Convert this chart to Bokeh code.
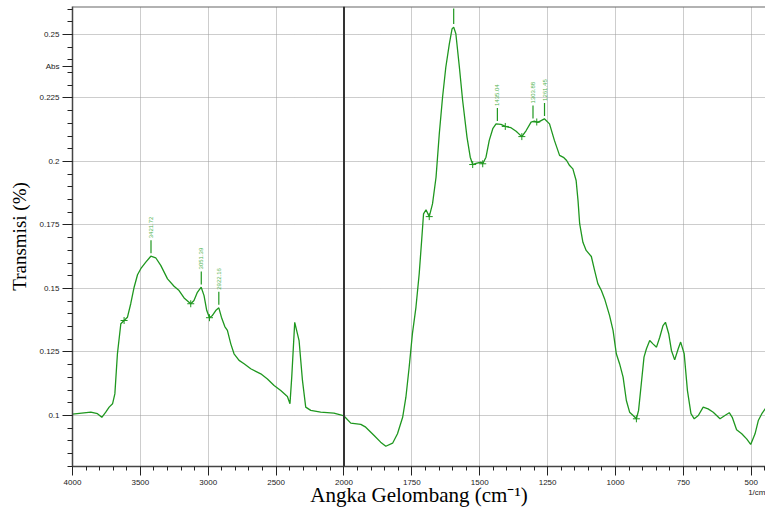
import numpy as np
from bokeh.plotting import figure
from bokeh.models import Range1d, FixedTicker, Span, ColumnDataSource
from bokeh.core.properties import value
from bokeh.embed import file_html
from bokeh.resources import INLINE

# ---------------- data ----------------
wavenumber = [
    4000, 3865, 3816, 3784, 3755, 3730, 3705, 3688, 3669, 3644, 3620, 3595, 3571, 3546,
    3521, 3497, 3460, 3423, 3387, 3350, 3300, 3252, 3215, 3178, 3129, 3105, 3080, 3052,
    3031, 3011, 2991, 2969, 2945, 2922, 2903, 2878, 2859, 2834, 2810, 2773, 2736, 2687,
    2613, 2564, 2515, 2466, 2417, 2398, 2385, 2363, 2331, 2306, 2282, 2245, 2172, 2074,
    2012, 2000, 1975, 1938, 1920, 1889, 1865, 1846, 1821, 1803, 1784, 1772, 1760, 1748,
    1735, 1723, 1714, 1707, 1698, 1686, 1674, 1661, 1649, 1637, 1625, 1612, 1602, 1596,
    1588, 1575, 1563, 1547, 1535, 1526, 1514, 1495, 1489, 1477, 1465, 1452, 1440, 1422,
    1406, 1385, 1366, 1345, 1329, 1311, 1299, 1286, 1274, 1262, 1243, 1225, 1206, 1190,
    1180, 1169, 1157, 1145, 1138, 1132, 1120, 1108, 1089, 1077, 1065, 1052, 1040, 1022,
    1009, 997, 985, 972, 960, 948, 935, 923, 915, 905, 895, 886, 874, 862, 849, 837, 825,
    816, 804, 794, 782, 769, 760, 747, 735, 722, 710, 695, 677, 659, 640, 615, 597, 581,
    570, 554, 535, 517, 502, 486, 474, 461, 446,
]
absorbance = [
    0.1005, 0.1013, 0.1007, 0.0993, 0.1013, 0.1033, 0.1046, 0.1085, 0.1243, 0.1361, 0.1374, 0.1387, 0.1440, 0.1505,
    0.1554, 0.1578, 0.1604, 0.1627, 0.1621, 0.1591, 0.1538, 0.1509, 0.1492, 0.1463, 0.1440, 0.1453, 0.1485, 0.1505,
    0.1472, 0.1413, 0.1385, 0.1394, 0.1413, 0.1424, 0.1387, 0.1350, 0.1335, 0.1282, 0.1243, 0.1217, 0.1204, 0.1184,
    0.1164, 0.1144, 0.1118, 0.1098, 0.1075, 0.1046, 0.1151, 0.1367, 0.1295, 0.1138, 0.1033, 0.1020, 0.1013, 0.1009,
    0.1000, 0.0998, 0.0970, 0.0965, 0.0954, 0.0921, 0.0895, 0.0879, 0.0891, 0.0928, 0.0993, 0.1072, 0.1190, 0.1322,
    0.1426, 0.1558, 0.1689, 0.1794, 0.1810, 0.1783, 0.1833, 0.1938, 0.2109, 0.2253, 0.2371, 0.2463, 0.2522, 0.2529,
    0.2503, 0.2371, 0.2240, 0.2096, 0.2017, 0.1988, 0.1993, 0.1997, 0.1991, 0.2017, 0.2083, 0.2129, 0.2148, 0.2146,
    0.2138, 0.2133, 0.2119, 0.2098, 0.2122, 0.2155, 0.2159, 0.2154, 0.2161, 0.2168, 0.2148, 0.2083, 0.2024, 0.2015,
    0.2004, 0.1984, 0.1971, 0.1925, 0.1846, 0.1755, 0.1682, 0.1650, 0.1626, 0.1571, 0.1519, 0.1492, 0.1459, 0.1394,
    0.1335, 0.1243, 0.1204, 0.1151, 0.1059, 0.1013, 0.1000, 0.0987, 0.1020, 0.1125, 0.1230, 0.1263, 0.1295, 0.1282,
    0.1269, 0.1308, 0.1354, 0.1367, 0.1322, 0.1256, 0.1219, 0.1263, 0.1289, 0.1243, 0.1098, 0.1007, 0.0987, 0.1000,
    0.1033, 0.1026, 0.1013, 0.0987, 0.1000, 0.1011, 0.0993, 0.0944, 0.0928, 0.0908, 0.0886, 0.0928, 0.0980, 0.1007,
    0.1030,
]

peak_wn = [3421.72, 3051.39, 2922.16, 1435.04, 1303.88, 1261.45]
peak_labels = ["3421.72", "3051.39", "2922.16", "1435.04", "1303.88", "1261.45"]
top_peak_wn = [1596.0]          # peak whose label is cut off above the plot
valley_wn = [3620, 3129, 2991, 1686, 1526, 1489, 1406, 1345, 1290, 923]

x_tick_values = [4000, 3500, 3000, 2500, 2000, 1750, 1500, 1250, 1000, 750, 500]
x_tick_labels = ["4000", "3500", "3000", "2500", "2000", "1750", "1500", "1250", "1000", "750", "500"]
y_tick_values = [0.1, 0.125, 0.15, 0.175, 0.2, 0.225, 0.25]
y_tick_labels = ["0.1", "0.125", "0.15", "0.175", "0.2", "0.225", "0.25"]
y_unit_label = "Abs"
x_unit_label = "1/cm"

# ---------------- axis break: below 2000 cm-1 the scale is stretched x2 ----------------
BREAK = 2000.0
STRETCH = 2.0


def to_axis(w):
    w = np.asarray(w, dtype=float)
    return np.where(w >= BREAK, w, BREAK - STRETCH * (BREAK - w))


wn = np.array(wavenumber, dtype=float)
ab = np.array(absorbance, dtype=float)
order = np.argsort(wn)


def ab_at(w):
    return np.interp(np.asarray(w, dtype=float), wn[order], ab[order])


GREEN = "#1f971f"
LIGHT_GREEN = "#4fb34f"

X_START, X_END = 4000, -1105
Y_START, Y_END = 0.07992, 0.26102

p = figure(width=765, height=512,
           x_range=Range1d(X_START, X_END), y_range=Range1d(Y_START, Y_END),
           output_backend="svg", toolbar_location=None,
           min_border_left=72, min_border_right=0, min_border_top=6, min_border_bottom=46)
p.background_fill_color = "white"
p.border_fill_color = "white"
p.outline_line_color = None

# ticks (unit labels sit in the tick-label columns, as in the instrument printout)
xt = [float(v) for v in to_axis(x_tick_values)]
x_unit_pos = X_END + 1.0
minor_x = np.concatenate([np.arange(4000, 2000, -100), to_axis(np.arange(2000, 440, -50))])
p.xaxis.ticker = FixedTicker(ticks=xt + [x_unit_pos], minor_ticks=list(minor_x))
x_over = {t: l for t, l in zip(xt, x_tick_labels)}
x_over[x_unit_pos] = "\n" + x_unit_label
p.xaxis.major_label_overrides = x_over

y_unit_pos = (y_tick_values[-1] + y_tick_values[-2]) / 2
p.yaxis.ticker = FixedTicker(ticks=y_tick_values + [y_unit_pos],
                             minor_ticks=list(np.round(np.arange(0.08, 0.2601, 0.005), 3)))
y_over = {t: l for t, l in zip(y_tick_values, y_tick_labels)}
y_over[y_unit_pos] = y_unit_label
p.yaxis.major_label_overrides = y_over

p.xgrid.ticker = FixedTicker(ticks=xt)
p.ygrid.ticker = FixedTicker(ticks=y_tick_values)

for ax in (p.xaxis[0], p.yaxis[0]):
    ax.axis_line_color = "#444444"
    ax.axis_line_width = 1.5
    ax.major_tick_line_color = "#222222"
    ax.minor_tick_line_color = "#222222"
    ax.major_tick_in = 0
    ax.minor_tick_in = 0
    ax.major_label_text_font = "Liberation Sans"
    ax.major_label_text_font_size = "8px"
    ax.major_label_text_color = "#222222"
    ax.axis_label_text_font = "Liberation Serif"
    ax.axis_label_text_font_style = "normal"
    ax.axis_label_text_color = "black"

p.yaxis.major_tick_out = 10
p.yaxis.minor_tick_out = 5
p.yaxis.major_label_standoff = 3
p.yaxis.axis_label = "Transmisi (%)"
p.yaxis.axis_label_text_font_size = "19px"
p.yaxis.axis_label_standoff = 6

p.xaxis.major_tick_out = 9
p.xaxis.minor_tick_out = 4
p.xaxis.major_label_standoff = 2
p.xaxis.axis_label = "Angka Gelombang (cm\u207b\u00b9)"
p.xaxis.axis_label_text_font_size = "21px"
p.xaxis.axis_label_standoff = -17

for g in (p.xgrid[0], p.ygrid[0]):
    g.grid_line_color = "#9a9a9a"
    g.grid_line_dash = "1 1"
    g.grid_line_width = 1

# top border and axis-break line
p.add_layout(Span(location=Y_END, dimension="width", line_color="#666666", line_width=2))
p.add_layout(Span(location=BREAK, dimension="height", line_color="#333333", line_width=2))

# spectrum
src = ColumnDataSource(dict(x=to_axis(wn), y=ab))
p.line("x", "y", source=src, line_color=GREEN, line_width=1.3)

# peak markers and labels
GAP = 0.0012
LEN = 0.0051
pv = ab_at(peak_wn)
pk = ColumnDataSource(dict(x=to_axis(peak_wn), y0=pv + GAP, y1=pv + GAP + LEN,
                           yt=pv + GAP + LEN + 0.0008, t=peak_labels))
p.segment(x0="x", y0="y0", x1="x", y1="y1", source=pk, line_color=GREEN, line_width=1.2)
p.text(x="x", y="yt", text="t", source=pk, angle=np.pi / 2, text_align="left",
       text_baseline="middle", text_font=value("Liberation Sans"), text_font_size="6px",
       text_color=LIGHT_GREEN)
tv = ab_at(top_peak_wn)
p.segment(x0=to_axis(top_peak_wn), y0=tv + GAP, x1=to_axis(top_peak_wn), y1=tv + GAP + LEN + 0.001,
          line_color=GREEN, line_width=1.2)

# valley crosses
vv = ab_at(valley_wn)
p.scatter(to_axis(valley_wn), vv, marker="cross", size=7, line_color=GREEN, line_width=1)

open("out.html", "w").write(file_html(p, INLINE))
